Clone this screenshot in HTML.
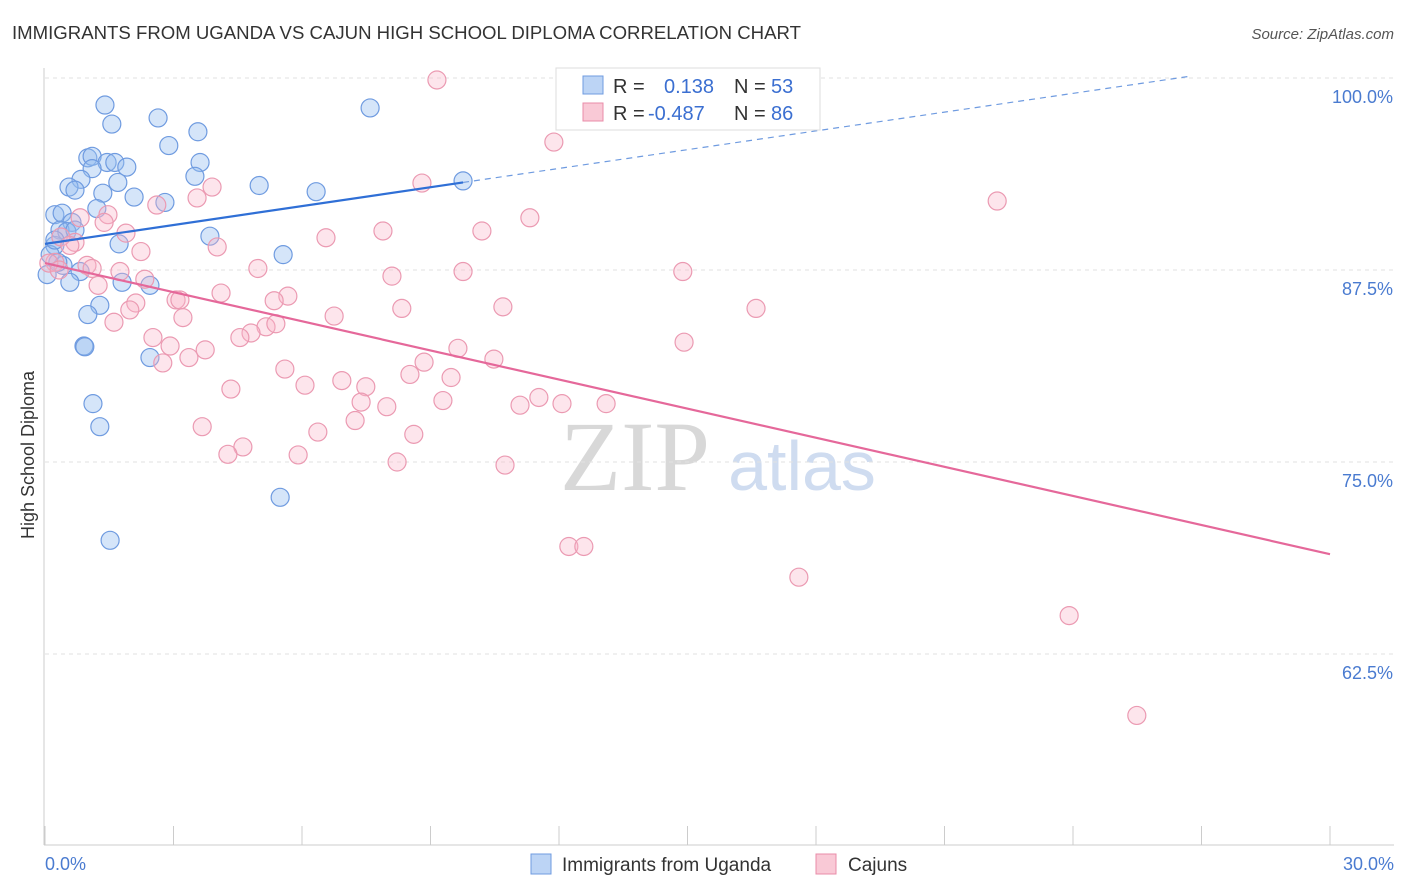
<!DOCTYPE html>
<html><head><meta charset="utf-8">
<style>
body{margin:0;background:#fff;font-family:"Liberation Sans",sans-serif;}
#wrap{position:relative;width:1406px;height:892px;overflow:hidden;}
</style></head>
<body>
<div id="wrap">
<svg id="chart" width="1406" height="892" xmlns="http://www.w3.org/2000/svg">
<text x="12" y="39" font-size="18.6" fill="#333">IMMIGRANTS FROM UGANDA VS CAJUN HIGH SCHOOL DIPLOMA CORRELATION CHART</text>
<text x="1394" y="39" font-size="15" fill="#555" font-style="italic" text-anchor="end">Source: ZipAtlas.com</text>
<text x="635" y="490" font-size="100" fill="#d8d8d8" font-family="Liberation Serif,serif" text-anchor="middle">ZIP</text>
<text x="802" y="490" font-size="70" fill="#cfdcf0" text-anchor="middle">atlas</text>
<g id="grid"></g>
<g id="pts"></g>
<g id="lines"></g>
<text transform="translate(34,455) rotate(-90)" font-size="18" fill="#333" text-anchor="middle">High School Diploma</text>
<text x="45" y="870" font-size="18" fill="#4a7bd0">0.0%</text>
<text x="1394" y="870" font-size="18" fill="#4a7bd0" text-anchor="end">30.0%</text>
<g>
<rect x="556" y="68" width="264" height="62" fill="#fff" stroke="#ddd"/>
<rect x="583" y="76" width="20" height="18" fill="#bcd4f5" stroke="#6f9be0"/>
<text x="613" y="93" font-size="20" fill="#333">R = </text><text x="664" y="93" font-size="20" fill="#3b6fd1">0.138</text>
<text x="734" y="93" font-size="20" fill="#333">N = </text><text x="771" y="93" font-size="20" fill="#3b6fd1">53</text>
<rect x="583" y="103" width="20" height="18" fill="#f9c9d6" stroke="#e98ca8"/>
<text x="613" y="120" font-size="20" fill="#333">R = </text><text x="648" y="120" font-size="20" fill="#3b6fd1">-0.487</text>
<text x="734" y="120" font-size="20" fill="#333">N = </text><text x="771" y="120" font-size="20" fill="#3b6fd1">86</text>
</g>
<g>
<rect x="531" y="854" width="20" height="20" fill="#bcd4f5" stroke="#6f9be0"/>
<text x="562" y="871" font-size="19" fill="#333">Immigrants from Uganda</text></g>
<g>
<rect x="816" y="854" width="20" height="20" fill="#f9c9d6" stroke="#e98ca8"/>
<text x="848" y="871" font-size="19" fill="#333">Cajuns</text></g>
</svg>
</div>
<script>
const yTicks=[100,87.5,75,62.5];
const yTickLabels=["100.0%","87.5%","75.0%","62.5%"];
const xTicks=[0,3,6,9,12,15,18,21,24,27,30];
const ugX=[1.40,1.56,2.64,3.57,7.59,2.89,3.62,1.00,1.10,1.45,1.63,1.91,1.10,1.70,0.84,3.50,0.56,0.70,1.35,2.08,2.80,5.00,6.33,9.76,1.21,0.23,0.40,0.63,0.35,0.51,0.70,3.85,1.73,0.23,0.12,5.56,0.42,0.82,0.05,0.58,1.80,2.45,1.28,1.00,0.91,2.45,1.12,1.28,5.49,1.52,0.23,0.30,0.93];
const ugY=[98.24,97.0,97.4,96.5,98.05,95.6,94.5,94.8,94.9,94.5,94.5,94.2,94.1,93.2,93.4,93.6,92.9,92.7,92.5,92.25,91.9,93.0,92.6,93.3,91.5,91.1,91.2,90.6,90.1,90.0,90.1,89.7,89.2,89.1,88.5,88.5,87.8,87.4,87.2,86.7,86.7,86.5,85.2,84.6,82.55,81.8,78.8,77.3,72.7,69.9,89.45,88.0,82.5];
const cjX=[9.15,11.88,22.23,8.80,3.90,2.61,3.55,1.47,11.32,0.82,1.38,1.89,7.89,10.20,6.56,4.02,2.24,0.70,0.37,0.23,0.98,1.10,1.75,4.97,8.10,9.76,14.89,2.33,1.24,4.11,5.67,3.06,3.15,2.12,5.35,1.98,8.33,10.69,16.60,3.22,6.75,1.61,5.16,5.39,4.81,4.55,2.52,14.92,2.92,3.74,9.64,3.36,2.75,8.85,10.48,5.60,8.52,9.48,6.93,7.49,4.34,6.07,9.29,7.38,7.98,11.09,11.53,12.07,13.10,7.24,3.67,6.37,8.61,4.62,4.27,5.91,8.22,10.74,12.23,12.58,17.60,23.91,25.49,0.09,0.33,0.58];
const cjY=[99.87,95.83,91.99,93.16,92.9,91.73,92.19,91.1,90.9,90.9,90.6,89.9,90.04,90.04,89.6,89.0,88.7,89.3,89.65,88.0,87.8,87.6,87.4,87.6,87.1,87.4,87.4,86.9,86.5,86.0,85.8,85.55,85.55,85.35,85.5,84.9,85.0,85.1,85.0,84.4,84.5,84.1,83.8,84.0,83.4,83.1,83.1,82.8,82.55,82.3,82.4,81.8,81.45,81.5,81.7,81.05,80.7,80.5,80.3,79.9,79.75,80.0,79.0,78.9,78.6,78.7,79.2,78.8,78.8,77.7,77.3,76.95,76.8,75.98,75.5,75.46,75.0,74.8,69.5,69.5,67.5,65.0,58.5,87.95,87.5,89.1];
const ugTrend=[89.2,93.2,100.1];
const ugTrendX=[0,9.76,26.7];
const cjTrend=[87.95,69.0];
const cjTrendX=[0,30];

const NS="http://www.w3.org/2000/svg";
const sx=v=>45+v/30*1285;
const sy=v=>78+(100-v)*15.36;
function mk(tag,attrs,parent){const e=document.createElementNS(NS,tag);for(const k in attrs)e.setAttribute(k,attrs[k]);parent.appendChild(e);return e;}
const grid=document.getElementById('grid'),pts=document.getElementById('pts'),lines=document.getElementById('lines');
yTicks.forEach((t,i)=>{
 const l=mk('line',{x1:45,x2:1394,y1:sy(t),y2:sy(t),stroke:'#e2e2e2','stroke-dasharray':'4,4'},grid);
 
 
 const tx=mk('text',{x:1393,y:sy(t)+25,'font-size':18,fill:'#4a7bd0','text-anchor':'end'},grid);
 tx.textContent=yTickLabels[i];
 
 
});
const ax=mk('line',{x1:44,x2:44,y1:68,y2:845,stroke:'#ccc'},grid);


const bx=mk('line',{x1:44,x2:1394,y1:845,y2:845,stroke:'#ccc'},grid);


xTicks.forEach(t=>{
 const l=mk('line',{x1:sx(t),x2:sx(t),y1:826,y2:845,stroke:'#ccc'},grid);
 
 
});
ugX.forEach((x,i)=>{
 const c=mk('circle',{cx:sx(x),cy:sy(ugY[i]),r:9,fill:'rgba(150,190,240,0.4)',stroke:'#6f9be0','stroke-width':1.2},pts);
 
 
});
cjX.forEach((x,i)=>{
 const c=mk('circle',{cx:sx(x),cy:sy(cjY[i]),r:9,fill:'rgba(248,180,200,0.35)',stroke:'#eb9ab2','stroke-width':1.2},pts);
 
 
});
const u1=mk('line',{x1:sx(ugTrendX[0]),y1:sy(ugTrend[0]),x2:sx(ugTrendX[1]),y2:sy(ugTrend[1]),stroke:'#2f6fd6','stroke-width':2.2},lines);


const u2=mk('line',{x1:sx(ugTrendX[1]),y1:sy(ugTrend[1]),x2:sx(ugTrendX[2]),y2:sy(ugTrend[2]),stroke:'#6f9be0','stroke-width':1.2,'stroke-dasharray':'6,5'},lines);


const c1=mk('line',{x1:sx(cjTrendX[0]),y1:sy(cjTrend[0]),x2:sx(cjTrendX[1]),y2:sy(cjTrend[1]),stroke:'#e5689a','stroke-width':2.2},lines);


</script>
</body></html>
